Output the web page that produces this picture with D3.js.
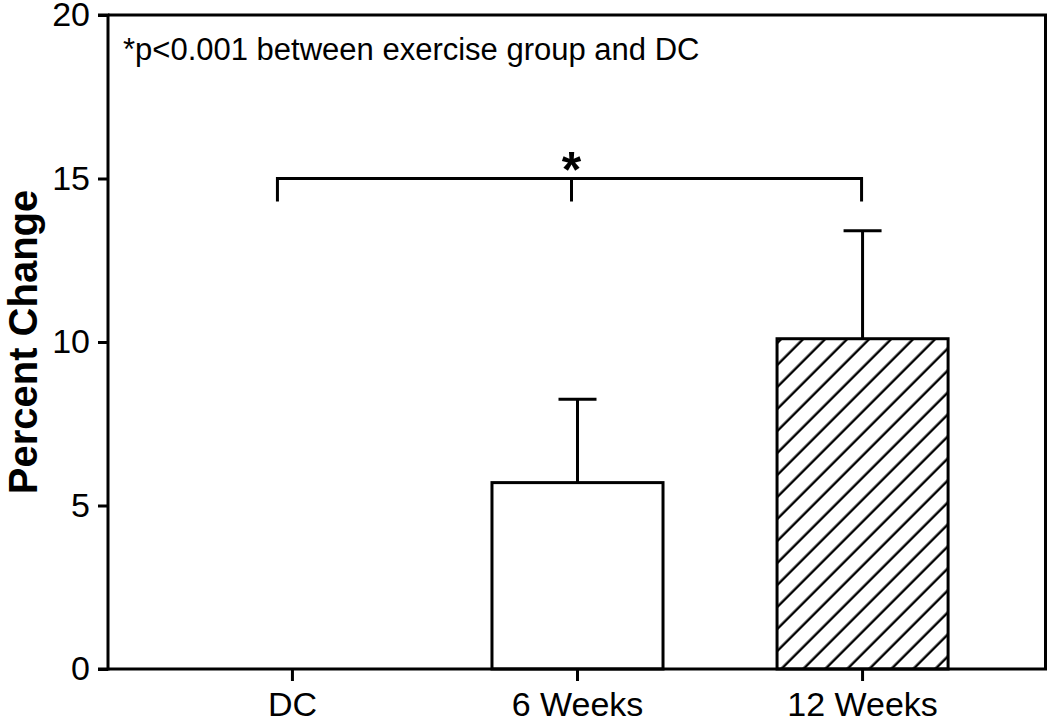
<!DOCTYPE html>
<html>
<head>
<meta charset="utf-8">
<script src="https://cdn.jsdelivr.net/npm/d3@7"></script>
<style>
  body { margin: 0; background: #fff; }
  svg { display: block; font-family: 'Liberation Sans', Arial, sans-serif; }
</style>
</head>
<body>
<svg id="chart" width="1050" height="720"></svg>
<script>
// chart values
var categories = ['DC', '6 Weeks', '12 Weeks']
var means = [0, 5.7, 10.1]
var errors = [0, 2.55, 3.3]
var fills = ['white', 'white', 'hatch']
var yTicks = [0, 5, 10, 15, 20]
var note = '*p<0.001 between exercise group and DC'
var sig = { value: 15, groups: ['DC', '6 Weeks', '12 Weeks'], label: '*' }

var width = 1050
var height = 720
var margin = { top: 15, right: 3, bottom: 51, left: 108 }

var svg = d3.select('#chart')

var x = d3.scaleBand()
  .domain(categories)
  .range([margin.left, width - margin.right])
  .paddingInner(0.4)
  .paddingOuter(0.347)

var y = d3.scaleLinear()
  .domain([0, 20])
  .range([height - margin.bottom, margin.top])

// diagonal hatch for the 12 week bar
var hatchW = 22 / Math.SQRT2
svg.append('defs').append('pattern')
  .attr('id', 'hatch')
  .attr('patternUnits', 'userSpaceOnUse')
  .attr('width', hatchW)
  .attr('height', hatchW)
  .attr('patternTransform', 'rotate(45)')
  .append('line')
  .attr('x1', hatchW * 0.92).attr('x2', hatchW * 0.92)
  .attr('y1', -2).attr('y2', hatchW + 2)
  .attr('stroke', '#000')
  .attr('stroke-width', 2.4)

var rows = categories.map(function (c, i) {
  return { cat: c, mean: means[i], err: errors[i], fill: fills[i] }
})

// bars (DC is zero so nothing shows)
svg.append('g')
  .selectAll('rect')
  .data(rows.filter(function (d) { return d.mean > 0 }))
  .join('rect')
  .attr('x', function (d) { return x(d.cat) })
  .attr('width', x.bandwidth())
  .attr('y', function (d) { return y(d.mean) })
  .attr('height', function (d) { return y(0) - y(d.mean) })
  .attr('fill', function (d) { return d.fill === 'hatch' ? 'url(#hatch)' : '#fff' })
  .attr('stroke', '#000')
  .attr('stroke-width', 3)

// error bars, upper only
var capW = 38
var eb = svg.append('g')
  .attr('stroke', '#000')
  .attr('stroke-width', 3)
  .selectAll('g')
  .data(rows.filter(function (d) { return d.err > 0 }))
  .join('g')
eb.append('line')
  .attr('x1', function (d) { return x(d.cat) + x.bandwidth() / 2 })
  .attr('x2', function (d) { return x(d.cat) + x.bandwidth() / 2 })
  .attr('y1', function (d) { return y(d.mean) })
  .attr('y2', function (d) { return y(d.mean + d.err) })
eb.append('line')
  .attr('x1', function (d) { return x(d.cat) + x.bandwidth() / 2 - capW / 2 })
  .attr('x2', function (d) { return x(d.cat) + x.bandwidth() / 2 + capW / 2 })
  .attr('y1', function (d) { return y(d.mean + d.err) })
  .attr('y2', function (d) { return y(d.mean + d.err) })

// frame: top and right edges
svg.append('path')
  .attr('d', 'M' + margin.left + ',' + margin.top + 'H' + (width - margin.right - 1.5) + 'V' + y(0))
  .attr('fill', 'none')
  .attr('stroke', '#000')
  .attr('stroke-width', 3)

// axes
var yAxis = svg.append('g')
  .attr('transform', 'translate(' + margin.left + ',0)')
  .call(d3.axisLeft(y).tickValues(yTicks).tickSize(10).tickPadding(8))
var xAxis = svg.append('g')
  .attr('transform', 'translate(0,' + y(0) + ')')
  .call(d3.axisBottom(x).tickSize(12).tickPadding(11))

;[yAxis, xAxis].forEach(function (a) {
  a.select('.domain').attr('stroke-width', 3)
  a.selectAll('.tick line').attr('stroke-width', 3)
  a.selectAll('.tick text')
    .attr('font-size', 34)
    .attr('font-family', 'Liberation Sans, Arial, sans-serif')
    .attr('fill', '#000')
})
yAxis.select('.domain').attr('d', 'M-10,' + y(0) + 'H0V' + margin.top + 'H-10')
xAxis.select('.domain').attr('d', 'M' + margin.left + ',0H' + (width - margin.right))

// axis title
svg.append('text')
  .attr('transform', 'translate(37,' + ((y(0) + margin.top) / 2) + ') rotate(-90)')
  .attr('text-anchor', 'middle')
  .attr('font-size', 40)
  .attr('font-weight', 'bold')
  .text('Percent Change')

// p-value note
svg.append('text')
  .attr('x', 123)
  .attr('y', 60)
  .attr('font-size', 31)
  .text(note)

// significance bracket
var bx = sig.groups.map(function (g, i) {
  return x(g) + x.bandwidth() / 2 + [-15, -6, -1][i]
})
var by = y(sig.value)
var drop = 23
svg.append('path')
  .attr('d', 'M' + bx[0] + ',' + (by + drop) + 'V' + by + 'H' + bx[2] + 'V' + (by + drop) +
    'M' + bx[1] + ',' + by + 'V' + (by + drop))
  .attr('fill', 'none')
  .attr('stroke', '#000')
  .attr('stroke-width', 3)
svg.append('text')
  .attr('x', bx[1])
  .attr('y', by + 8)
  .attr('text-anchor', 'middle')
  .attr('font-size', 50)
  .attr('font-weight', 'bold')
  .text(sig.label)
</script>
</body>
</html>
